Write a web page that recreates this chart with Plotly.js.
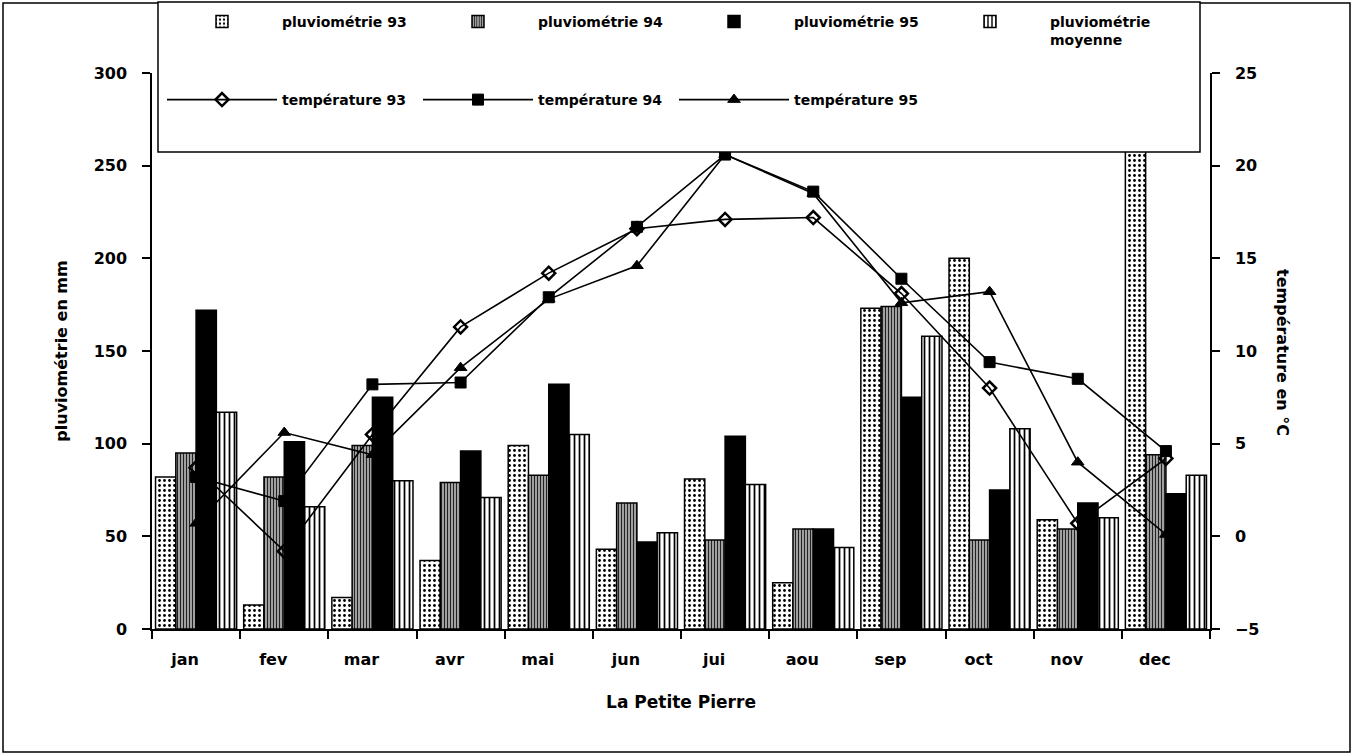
<!DOCTYPE html>
<html>
<head>
<meta charset="utf-8">
<script src="https://cdn.plot.ly/plotly-3.0.1.min.js"></script>
<style>html,body{margin:0;padding:0;background:#fff;}#chart{width:1353px;height:756px;}</style>
</head>
<body>
<div id="chart"></div>
<script>
const months = ["jan","fev","mar","avr","mai","jun","jui","aou","sep","oct","nov","dec"];
const pluvio93 = [82, 13, 17, 37, 99, 43, 81, 25, 173, 200, 59, 320];
const pluvio94 = [95, 82, 99, 79, 83, 68, 48, 54, 174, 48, 54, 94];
const pluvio95 = [172, 101, 125, 96, 132, 47, 104, 54, 125, 75, 68, 73];
const pluvioMoy = [117, 66, 80, 71, 105, 52, 78, 44, 158, 108, 60, 83];
const temp93 = [3.7, -0.8, 5.5, 11.3, 14.2, 16.6, 17.1, 17.2, 13.1, 8.0, 0.7, 4.2];
const temp94 = [3.2, 1.9, 8.2, 8.3, 12.9, 16.7, 20.6, 18.6, 13.9, 9.4, 8.5, 4.6];
const temp95 = [0.7, 5.6, 4.4, 9.1, 12.8, 14.6, 20.6, 18.5, 12.6, 13.2, 4.0, 0.1];

const FONT = "DejaVu Sans, Liberation Sans, Arial, sans-serif";
const outline = {color: "#000", width: 1.5};

const traces = [
  {type: "bar", name: "pluviométrie 93", x: months, y: pluvio93, legend: "legend",
   marker: {color: "#fff", line: outline, pattern: {shape: ".", fgcolor: "#000", bgcolor: "#fff", size: 5, solidity: 0.25}}},
  {type: "bar", name: "pluviométrie 94", x: months, y: pluvio94, legend: "legend",
   marker: {color: "#fff", line: outline, pattern: {shape: "|", fgcolor: "#222", bgcolor: "#bbb", size: 3, solidity: 0.45}}},
  {type: "bar", name: "pluviométrie 95", x: months, y: pluvio95, legend: "legend",
   marker: {color: "#000", line: outline}},
  {type: "bar", name: "pluviométrie<br>moyenne", x: months, y: pluvioMoy, legend: "legend",
   marker: {color: "#fff", line: outline, pattern: {shape: "|", fgcolor: "#000", bgcolor: "#fff", size: 5, solidity: 0.35}}},
  {type: "scatter", mode: "lines+markers", name: "température 93", x: months, y: temp93, yaxis: "y2", legend: "legend2",
   line: {color: "#000", width: 1.6},
   marker: {symbol: "diamond-open", size: 10, color: "#000", line: {color: "#000", width: 2.5}}},
  {type: "scatter", mode: "lines+markers", name: "température 94", x: months, y: temp94, yaxis: "y2", legend: "legend2",
   line: {color: "#000", width: 1.6},
   marker: {symbol: "square", size: 11, color: "#000", line: {color: "#000", width: 1}}},
  {type: "scatter", mode: "lines+markers", name: "température 95", x: months, y: temp95, yaxis: "y2", legend: "legend2",
   line: {color: "#000", width: 1.6},
   marker: {symbol: "triangle-up", size: 11, color: "#000", line: {color: "#000", width: 1}}}
];

const W = 1058, H = 556, L = 152, T = 73;
const px = v => (v - L) / W;
const py = v => (T + H - v) / H;

const legendCommon = {
  orientation: "h", xanchor: "left", yanchor: "top",
  bgcolor: "rgba(0,0,0,0)", borderwidth: 0,
  entrywidth: 131, entrywidthmode: "pixels", itemwidth: 110, valign: "top",
  font: {family: FONT, size: 14, color: "#000", weight: "bold"},
  traceorder: "normal"
};

const layout = {
  width: 1353, height: 756,
  margin: {l: L, r: 1353 - L - W, t: T, b: 756 - T - H, pad: 0, autoexpand: false},
  paper_bgcolor: "#fff", plot_bgcolor: "#fff",
  font: {family: FONT, color: "#000", size: 16, weight: "bold"},
  barmode: "group", bargap: 0.08, bargroupgap: 0,
  showlegend: true,
  legend: Object.assign({}, legendCommon, {x: px(162), y: py(6)}),
  legend2: Object.assign({}, legendCommon, {x: px(162), y: py(84)}),
  xaxis: {
    type: "category", range: [-0.5, 11.5], showgrid: false, zeroline: false,
    showline: true, linecolor: "#000", linewidth: 1.5,
    ticks: "outside", ticklen: 8, tickwidth: 1.5, tickcolor: "#000", tickson: "boundaries",
    ticklabelstandoff: 15, ticklabelshift: -11,
    tickfont: {family: FONT, size: 16, color: "#000", weight: "bold"},
    title: {text: "La Petite Pierre", standoff: 28, font: {family: FONT, size: 17, color: "#000", weight: "bold"}}
  },
  yaxis: {
    range: [0, 300], tickmode: "linear", tick0: 0, dtick: 50,
    showgrid: false, zeroline: false,
    showline: true, linecolor: "#000", linewidth: 1.5,
    ticks: "outside", ticklen: 8, tickwidth: 1.5, tickcolor: "#000",
    ticklabelstandoff: 12,
    tickfont: {family: FONT, size: 16, color: "#000", weight: "bold"},
    title: {text: "pluviométrie en mm", standoff: 22, font: {family: FONT, size: 16, color: "#000", weight: "bold"}}
  },
  yaxis2: {
    overlaying: "y", side: "right",
    range: [-5, 25], tickmode: "linear", tick0: -5, dtick: 5,
    showgrid: false, zeroline: false,
    showline: true, linecolor: "#000", linewidth: 1.5,
    ticks: "outside", ticklen: 8, tickwidth: 1.5, tickcolor: "#000",
    ticklabelstandoff: 12,
    tickfont: {family: FONT, size: 16, color: "#000", weight: "bold"}
  },
  annotations: [
    {text: "température en °C", xref: "paper", yref: "paper", x: px(1283), y: py(352),
     textangle: 90, showarrow: false, xanchor: "center", yanchor: "middle",
     font: {family: FONT, size: 16, color: "#000", weight: "bold"}}
  ],
  shapes: [
    {type: "rect", xref: "paper", yref: "paper", x0: px(3), x1: px(1350), y0: py(752), y1: py(3),
     line: {color: "#000", width: 1.5}, fillcolor: "rgba(0,0,0,0)", layer: "below"},
    {type: "rect", xref: "paper", yref: "paper", x0: px(158), x1: px(1200), y0: py(152), y1: py(2),
     line: {color: "#000", width: 1.5}, fillcolor: "#fff", layer: "above"}
  ]
};

Plotly.newPlot("chart", traces, layout, {displayModeBar: false, responsive: false});
</script>
</body>
</html>
